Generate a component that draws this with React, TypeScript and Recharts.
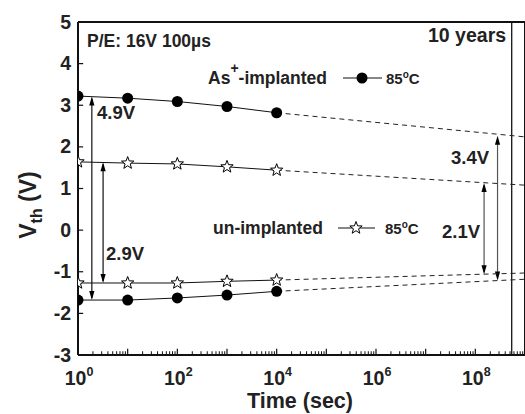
import React from "react";
import { ComposedChart, Line, XAxis, YAxis, ReferenceLine } from "recharts";

const times = [1, 10, 100, 1000, 10000];
const asProgram = [3.22, 3.17, 3.09, 2.97, 2.82];
const asErase = [-1.68, -1.68, -1.63, -1.56, -1.47];
const unProgram = [1.64, 1.61, 1.59, 1.52, 1.44];
const unErase = [-1.27, -1.27, -1.27, -1.23, -1.2];

// extrapolation to the right edge
const extTimes = [1e4, 1e9];
const asProgramExt = [2.82, 2.24];
const asEraseExt = [-1.47, -1.18];
const unProgramExt = [1.44, 1.08];
const unEraseExt = [-1.2, -1.03];

const tenYears = 5.4e8;
const xTicks = [1, 100, 1e4, 1e6, 1e8];
const yTicks = [-3, -2, -1, 0, 1, 2, 3, 4, 5];

// window arrows: [x, from, to]
const windowArrows: [number, number, number][] = [
  [1.9, -1.68, 3.21],
  [3.2, -1.27, 1.63],
  [2.8e8, -1.21, 2.27],
  [1.5e8, -1.06, 1.13],
];

const toRows = (xs: number[], ys: number[]) => xs.map((x, i) => ({ x, y: ys[i] }));

const FONT = "'Liberation Sans', Arial, sans-serif";
const PLOT_LEFT = 78;

const starPoints = (cx: number, cy: number, ro: number, ri: number) => {
  const pts: string[] = [];
  for (let i = 0; i < 10; i++) {
    const r = i % 2 === 0 ? ro : ri;
    const a = -Math.PI / 2 + (i * Math.PI) / 5;
    pts.push(`${cx + r * Math.cos(a)},${cy + r * Math.sin(a)}`);
  }
  return pts.join(" ");
};

// markers sitting on the y axis are cut by the frame, as in the original
let clipSeq = 0;
const Clipped = ({ cx, cy, children }: any) => {
  const id = `dc${clipSeq++}`;
  return (
    <g>
      <defs>
        <clipPath id={id}>
          <rect x={PLOT_LEFT} y={cy - 10} width={30} height={20} />
        </clipPath>
      </defs>
      <g clipPath={cx < PLOT_LEFT + 8 ? `url(#${id})` : undefined}>{children}</g>
    </g>
  );
};

const CircleDot = (p: any) => (
  <Clipped key={p.key} cx={p.cx} cy={p.cy}>
    <circle cx={p.cx} cy={p.cy} r={5.5} fill="#000" stroke="none" />
  </Clipped>
);
const StarDot = (p: any) => (
  <Clipped key={p.key} cx={p.cx} cy={p.cy}>
    <polygon points={starPoints(p.cx, p.cy, 6.5, 2.7)} fill="#fff" stroke="#000" strokeWidth={1} />
  </Clipped>
);

const Arrow = (p: any) => {
  const { x1, y1, x2, y2 } = p;
  const top = Math.min(y1, y2);
  const bot = Math.max(y1, y2);
  const h = 9;
  const w = 2.6;
  return (
    <g>
      <line x1={x1} y1={top + 2} x2={x2} y2={bot - 2} stroke={p.stroke} strokeWidth={1.2} />
      <polygon points={`${x1},${top} ${x1 - w},${top + h} ${x1 + w},${top + h}`} fill="#000" />
      <polygon points={`${x1},${bot} ${x1 - w},${bot - h} ${x1 + w},${bot - h}`} fill="#000" />
    </g>
  );
};

const XTick = (p: any) => {
  const exp = Math.round(Math.log10(p.payload.value));
  return (
    <text x={p.x + 1} y={385} textAnchor="middle" fontFamily={FONT} fontWeight="bold" fill="#222">
      <tspan fontSize={19.5}>10</tspan>
      <tspan fontSize={12.5} dy={-9}>{exp}</tspan>
    </text>
  );
};

const YTick = (p: any) => (
  <text x={71} y={p.y + 6.5} textAnchor="end" fontFamily={FONT} fontWeight="bold" fontSize={19.5} fill="#222">
    {p.payload.value}
  </text>
);

// inward tick marks along the axes
const xMajor: number[] = [];
const xMinor: number[] = [];
for (let d = 0; d <= 9; d++) {
  xMajor.push(Math.pow(10, d));
  if (d < 9) for (let k = 2; k <= 9; k++) xMinor.push(k * Math.pow(10, d));
}

export default function App() {
  return (
    <div style={{ position: "absolute", left: 0, top: 0, width: 525, height: 414, background: "#fff" }}>
      <ComposedChart width={525} height={414} margin={{ top: 22, right: 0, bottom: 0, left: 0 }}>
        <XAxis
          type="number"
          dataKey="x"
          scale="log"
          domain={[1, 1e9]}
          allowDataOverflow
          ticks={xTicks}
          tick={<XTick />}
          tickLine={false}
          axisLine={{ stroke: "#111", strokeWidth: 2 }}
          height={59}
        />
        <YAxis
          type="number"
          dataKey="y"
          domain={[-3, 5]}
          allowDataOverflow
          ticks={yTicks}
          tick={<YTick />}
          tickLine={false}
          axisLine={{ stroke: "#111", strokeWidth: 2 }}
          width={78}
        />
        <ReferenceLine y={5} stroke="#111" strokeWidth={2} ifOverflow="extendDomain" />
        <ReferenceLine x={1e9} stroke="#111" strokeWidth={2} />
        <ReferenceLine x={tenYears} stroke="#111" strokeWidth={1.3} />
        {xMajor.map((v) => (
          <ReferenceLine key={`M${v}`} segment={[{ x: v, y: -3 }, { x: v, y: -2.85 }]} stroke="#111" strokeWidth={1.2} />
        ))}
        {xMinor.map((v) => (
          <ReferenceLine key={`m${v}`} segment={[{ x: v, y: -3 }, { x: v, y: -2.91 }]} stroke="#111" strokeWidth={1} />
        ))}
        {yTicks.slice(1, -1).map((v) => (
          <ReferenceLine key={`y${v}`} segment={[{ x: 1, y: v }, { x: 1.27, y: v }]} stroke="#111" strokeWidth={1.2} />
        ))}
        {windowArrows.map(([x, a, b], i) => (
          <ReferenceLine
            key={`a${i}`}
            segment={[{ x, y: a }, { x, y: b }]}
            stroke={i >= 2 ? "#555" : "#111"}
            shape={<Arrow />}
          />
        ))}

        <Line data={toRows(extTimes, asProgramExt)} dataKey="y" stroke="#222" strokeDasharray="5 4" dot={false} isAnimationActive={false} />
        <Line data={toRows(extTimes, asEraseExt)} dataKey="y" stroke="#222" strokeDasharray="5 4" dot={false} isAnimationActive={false} />
        <Line data={toRows(extTimes, unProgramExt)} dataKey="y" stroke="#222" strokeDasharray="5 4" dot={false} isAnimationActive={false} />
        <Line data={toRows(extTimes, unEraseExt)} dataKey="y" stroke="#222" strokeDasharray="5 4" dot={false} isAnimationActive={false} />

        <Line data={toRows(times, asProgram)} dataKey="y" stroke="#111" dot={<CircleDot />} isAnimationActive={false} />
        <Line data={toRows(times, asErase)} dataKey="y" stroke="#111" dot={<CircleDot />} isAnimationActive={false} />
        <Line data={toRows(times, unProgram)} dataKey="y" stroke="#111" dot={<StarDot />} isAnimationActive={false} />
        <Line data={toRows(times, unErase)} dataKey="y" stroke="#111" dot={<StarDot />} isAnimationActive={false} />
      </ComposedChart>

      <svg width={525} height={414} style={{ position: "absolute", left: 0, top: 0, pointerEvents: "none" }}>
        <g fontFamily={FONT} fontWeight="bold" fill="#222">
          <text x={87} y={47} fontSize={17.5}>P/E: 16V 100µs</text>
          <text x={428} y={42} fontSize={19.5}>10 years</text>
          <text x={208} y={84} fontSize={17.5}>
            As<tspan dy={-11} fontSize={14}>+</tspan>
            <tspan dy={11}>-implanted</tspan>
          </text>
          <text x={213} y={234} fontSize={17.5}>un-implanted</text>
          <text x={386} y={84} fontSize={15}>
            85<tspan fontSize={10} dy={-6}>o</tspan>
            <tspan dy={6}>C</tspan>
          </text>
          <text x={385} y={234} fontSize={15}>
            85<tspan fontSize={10} dy={-6}>o</tspan>
            <tspan dy={6}>C</tspan>
          </text>
          <text x={97} y={119} fontSize={18.5}>4.9V</text>
          <text x={106} y={260} fontSize={18.5}>2.9V</text>
          <text x={451} y={164} fontSize={18.5}>3.4V</text>
          <text x={442} y={238} fontSize={18.5}>2.1V</text>
          <text x={300} y={408} fontSize={21.5} textAnchor="middle">Time (sec)</text>
          <text transform="translate(36,205) rotate(-90)" textAnchor="middle" fontSize={23}>
            V<tspan fontSize={16} dy={6}>th</tspan>
            <tspan dy={-6}> (V)</tspan>
          </text>
        </g>
        <line x1={343} y1={78} x2={382} y2={78} stroke="#111" strokeWidth={1.2} />
        <circle cx={362} cy={78} r={5.5} fill="#000" />
        <line x1={338} y1={228} x2={375} y2={228} stroke="#111" strokeWidth={1.2} />
        <polygon points={starPoints(356, 228, 6.5, 2.7)} fill="#fff" stroke="#000" />
      </svg>
    </div>
  );
}
